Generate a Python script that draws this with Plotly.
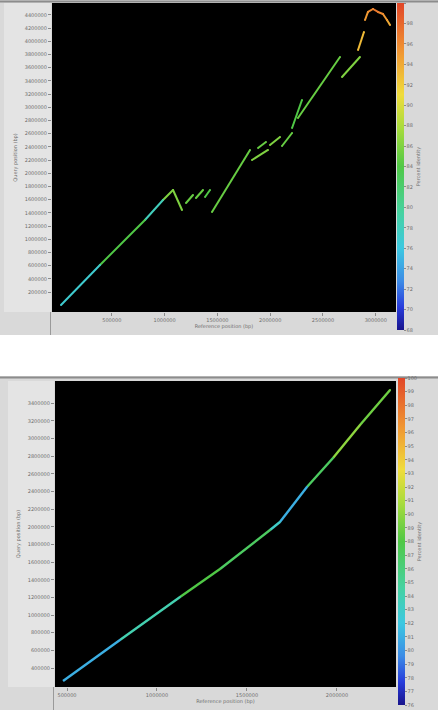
import plotly.graph_objects as go
from plotly.colors import sample_colorscale

W, H = 438, 710

# ---- identity colour ramp (blue -> green -> red) ----
RAMP = [
    [0.00, "rgb(25,20,140)"],
    [0.07, "rgb(40,60,220)"],
    [0.15, "rgb(60,140,230)"],
    [0.25, "rgb(60,200,225)"],
    [0.36, "rgb(70,210,160)"],
    [0.50, "rgb(80,200,70)"],
    [0.62, "rgb(170,220,60)"],
    [0.72, "rgb(240,220,60)"],
    [0.85, "rgb(240,150,50)"],
    [1.00, "rgb(225,70,40)"],
]

# ---- upper dot plot: aligned segments ----
top_ref_start = [19000, 388000, 814000, 985000, 1080000, 1203000, 1297000, 1383000,
                 1449000, 1828000, 1885000, 1998000, 2112000, 2207000, 2263000,
                 2680000, 2832000, 2898000, 2926000, 2974000, 3021000, 3068000, 3106000]
top_ref_end = [388000, 814000, 985000, 1080000, 1165000, 1269000, 1364000, 1430000,
               1809000, 1979000, 1960000, 2093000, 2207000, 2301000, 2661000,
               2850000, 2888000, 2926000, 2974000, 3021000, 3068000, 3106000, 3135000]
top_qry_start = [3000, 609000, 1291000, 1594000, 1746000, 1549000, 1624000, 1639000,
                 1412000, 2200000, 2382000, 2427000, 2412000, 2685000, 2836000,
                 3458000, 3867000, 4321000, 4443000, 4488000, 4443000, 4412000, 4321000]
top_qry_end = [609000, 1291000, 1594000, 1746000, 1442000, 1670000, 1746000, 1746000,
               2352000, 2352000, 2473000, 2549000, 2609000, 3109000, 3761000,
               3761000, 4140000, 4443000, 4488000, 4443000, 4412000, 4321000, 4246000]
top_identity = [77, 84, 78, 86, 86, 85, 85, 84, 85, 86, 85, 86, 85, 84, 85,
                86, 93, 95, 96, 97, 96, 95, 94]

# ---- lower dot plot: one continuous alignment path ----
bot_ref = [478000, 794000, 1128000, 1350000, 1628000, 1683000, 1833000, 1978000, 2128000, 2295000]
bot_qry = [253000, 717000, 1205000, 1522000, 1964000, 2054000, 2451000, 2780000, 3153000, 3550000]
bot_identity = [81, 84, 88, 87, 83, 81, 87, 90, 89]

# ---- tick values ----
top_xticks = [500000, 1000000, 1500000, 2000000, 2500000, 3000000]
top_yticks = list(range(200000, 4400001, 200000))
bot_xticks = [500000, 1000000, 1500000, 2000000]
bot_yticks = list(range(400000, 3400001, 200000))
top_cmin, top_cmax = 68, 100
bot_cmin, bot_cmax = 76, 100

X_TITLE = "Reference position (bp)"
Y_TITLE = "Query position (bp)"
C_TITLE = "Percent identity"


def px_x(p):
    return p / W


def px_y(p):
    return 1 - p / H


def colour(v, lo, hi):
    return sample_colorscale(RAMP, [(v - lo) / (hi - lo)])[0]


fig = go.Figure()

# upper panel segments
for xs, xe, ys, ye, idn in zip(top_ref_start, top_ref_end, top_qry_start, top_qry_end, top_identity):
    fig.add_trace(go.Scatter(x=[xs, xe], y=[ys, ye], mode="lines",
                             line=dict(color=colour(idn, top_cmin, top_cmax), width=2),
                             xaxis="x", yaxis="y", showlegend=False, hoverinfo="skip"))
# endpoints carry the colour scale
fig.add_trace(go.Scatter(
    x=top_ref_start + top_ref_end, y=top_qry_start + top_qry_end, mode="markers",
    marker=dict(size=2, color=top_identity + top_identity, coloraxis="coloraxis"),
    xaxis="x", yaxis="y", showlegend=False))

# lower panel path
for i, idn in enumerate(bot_identity):
    fig.add_trace(go.Scatter(x=bot_ref[i:i + 2], y=bot_qry[i:i + 2], mode="lines",
                             line=dict(color=colour(idn, bot_cmin, bot_cmax), width=2.4),
                             xaxis="x2", yaxis="y2", showlegend=False, hoverinfo="skip"))
fig.add_trace(go.Scatter(
    x=bot_ref[1:], y=bot_qry[1:], mode="markers",
    marker=dict(size=2, color=bot_identity, coloraxis="coloraxis2"),
    xaxis="x2", yaxis="y2", showlegend=False))

tick_font = dict(family="DejaVu Sans", size=5, color="#6e6e6e")
title_font = dict(family="DejaVu Sans", size=5, color="#6e6e6e")

axis_common = dict(showgrid=False, zeroline=False, showline=False, ticks="outside",
                   ticklen=3, tickcolor="#8a8a8a", tickfont=tick_font,
                   tickformat="d", automargin=False)

shapes = [
    # white gap between the two panels
    dict(type="rect", xref="paper", yref="paper", x0=0, x1=1,
         y0=px_y(376), y1=px_y(335), fillcolor="white", line_width=0, layer="below"),
    # lighter tick-label bands
    dict(type="rect", xref="paper", yref="paper", x0=px_x(4), x1=px_x(51),
         y0=px_y(312), y1=px_y(3), fillcolor="#e4e4e4", line_width=0, layer="below"),
    dict(type="rect", xref="paper", yref="paper", x0=px_x(8), x1=px_x(54),
         y0=px_y(687), y1=px_y(381), fillcolor="#e4e4e4", line_width=0, layer="below"),
    # panel borders
    dict(type="line", xref="paper", yref="paper", x0=0, x1=1, y0=px_y(1.5), y1=px_y(1.5),
         line=dict(color="#8c8c8c", width=2), layer="below"),
    dict(type="line", xref="paper", yref="paper", x0=0, x1=1, y0=px_y(377.5), y1=px_y(377.5),
         line=dict(color="#8c8c8c", width=2), layer="below"),
    dict(type="line", xref="paper", yref="paper", x0=px_x(50.5), x1=px_x(50.5),
         y0=px_y(335), y1=px_y(312), line=dict(color="#9a9a9a", width=1), layer="below"),
    dict(type="line", xref="paper", yref="paper", x0=px_x(53.5), x1=px_x(53.5),
         y0=px_y(710), y1=px_y(687), line=dict(color="#9a9a9a", width=1), layer="below"),
]

cbar_common = dict(thickness=7, thicknessmode="pixels", lenmode="pixels", len=327,
                   xanchor="left", yanchor="middle", outlinewidth=0,
                   ticks="outside", ticklen=2, tickcolor="#8a8a8a",
                   tickfont=tick_font, xpad=0, ypad=0,
                   title=dict(text=C_TITLE, side="right", font=title_font))

fig.update_layout(
    width=W, height=H,
    margin=dict(l=0, r=0, t=0, b=0),
    paper_bgcolor="#d9d9d9",
    plot_bgcolor="black",
    shapes=shapes,
    xaxis=dict(domain=[px_x(52), px_x(396)], range=[-66290, 3191390], anchor="y",
               tickvals=top_xticks,
               title=dict(text=X_TITLE, font=title_font, standoff=1), **axis_common),
    yaxis=dict(domain=[px_y(312), px_y(3)], range=[-103040, 4578928], anchor="x",
               tickvals=top_yticks,
               title=dict(text=Y_TITLE, font=title_font, standoff=6), **axis_common),
    xaxis2=dict(domain=[px_x(55), px_x(396)], range=[433328, 2327924], anchor="y2",
                tickvals=bot_xticks,
                title=dict(text=X_TITLE, font=title_font, standoff=1), **axis_common),
    yaxis2=dict(domain=[px_y(687), px_y(381)], range=[184711, 3651997], anchor="x2",
                tickvals=bot_yticks,
                title=dict(text=Y_TITLE, font=title_font, standoff=6), **axis_common),
    coloraxis=dict(colorscale=RAMP, cmin=top_cmin, cmax=top_cmax,
                   colorbar=dict(x=px_x(397), y=px_y(166.5), dtick=2, tick0=68, **cbar_common)),
    coloraxis2=dict(colorscale=RAMP, cmin=bot_cmin, cmax=bot_cmax,
                    colorbar=dict(x=px_x(398), y=px_y(541.5), dtick=1, tick0=76, **cbar_common)),
)

fig.write_html("out.html")
